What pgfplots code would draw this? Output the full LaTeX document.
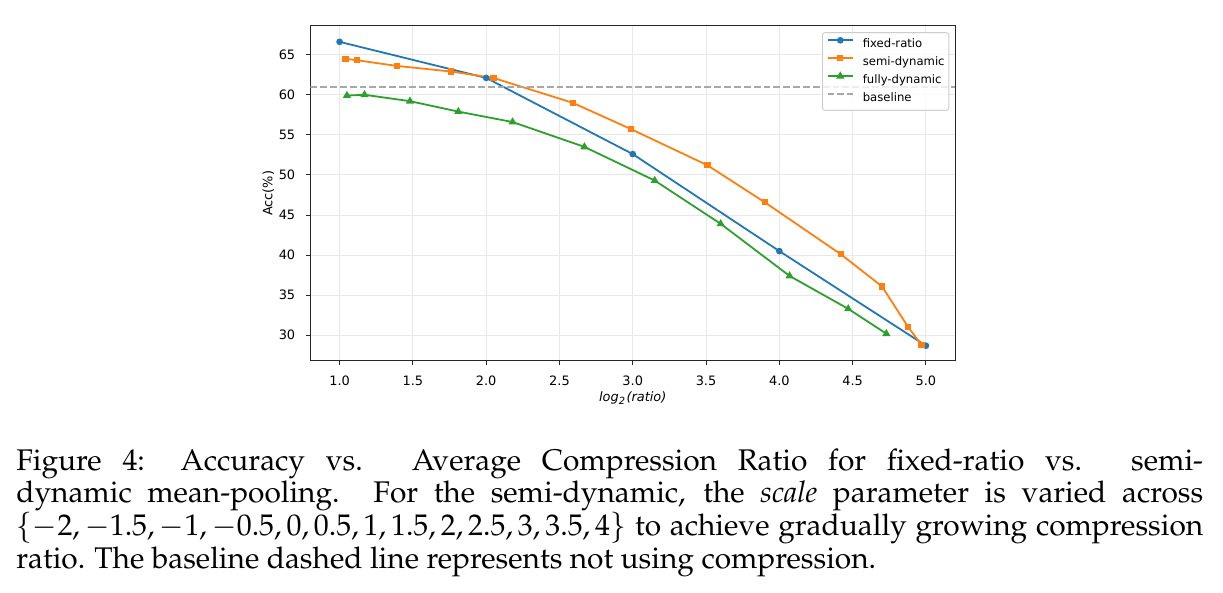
\documentclass[border=0pt]{standalone}
\usepackage{fontspec}
\usepackage[T1]{fontenc}
\usepackage{mathpazo}
\usepackage{pgfplots}
\pgfplotsset{compat=1.18}
\newfontfamily\dejavu{DejaVu Sans}
\newcommand{\tickfont}{\dejavu\fontsize{4.33}{5}\selectfont}
\newcommand{\legfont}{\dejavu\fontsize{3.9}{4.5}\selectfont}
\definecolor{tabblue}{HTML}{1F77B4}
\definecolor{taborange}{HTML}{FF7F0E}
\definecolor{tabgreen}{HTML}{2CA02C}
\definecolor{basegray}{RGB}{168,168,168}
\definecolor{gridgray}{RGB}{232,232,232}
\begin{document}
\begin{tikzpicture}
\useasboundingbox (0pt,0pt) rectangle (409.6pt,-198.6pt);
\begin{axis}[
  at={(103.92pt,-120.80pt)}, anchor=south west,
  scale only axis, width=216.0pt, height=112.1pt,
  xmin=0.8, xmax=5.2, ymin=26.83, ymax=68.58,
  xtick={1,1.5,...,5}, ytick={30,35,...,65},
  axis line style={line width=0.35pt, black!85},
  tick pos=left, tick align=outside,
  major tick length=1.5pt,
  every tick/.style={line width=0.35pt, black!85},
  grid=major, grid style={line width=0.3pt, gridgray},
  /pgf/number format/assume math mode=true,
  xticklabel style={font=\tickfont, anchor=center, inner sep=0pt, yshift=-5.36pt,
    /pgf/number format/.cd, fixed, fixed zerofill, precision=1},
  yticklabel style={font=\tickfont, anchor=east, inner sep=0pt, xshift=-3.35pt},
  xlabel={\textit{log}\textsubscript{\textit{2}}\textit{(ratio)}},
  ylabel={Acc(\%)},
  label style={font=\tickfont, inner sep=0pt},
  xlabel style={at={(axis description cs:0.5,-0.1115)}, anchor=center},
  ylabel style={at={(axis description cs:-0.0651,0.5)}, anchor=center},
  legend style={at={(rel axis cs:1,1)}, anchor=north east, xshift=-2pt, yshift=-2.1pt,
    draw=black!20, line width=0.3pt, rounded corners=0.8pt, fill=white, fill opacity=0.8,
    text opacity=1, font=\legfont, inner xsep=1.4pt, inner ysep=1pt,
    /tikz/column sep=3pt, /tikz/row sep=0pt,
    nodes={inner sep=0pt, text height=4.1pt, text depth=1.9pt}},
  legend cell align=left,
  legend image code/.code={\draw[mark repeat=2,mark phase=2,#1]
    plot coordinates {(0pt,1.45pt) (4.25pt,1.45pt) (8.5pt,1.45pt)};},
]
% fixed pooling ratio
\addplot[tabblue, line width=0.6pt, mark=*, mark size=0.8pt, mark options={solid}]
  coordinates {(1.0,66.6) (2.0,62.1) (3.0,52.6) (4.0,40.5) (5.0,28.7)};
\addlegendentry{fixed-ratio}
% semi-dynamic, scale from -2 to 4
\addplot[taborange, line width=0.6pt, mark=square*, mark size=0.75pt, mark options={solid}]
  coordinates {(1.04,64.5) (1.12,64.3) (1.39,63.6) (1.76,62.9) (2.05,62.1)
               (2.59,59.0) (2.99,55.7) (3.51,51.2) (3.90,46.6) (4.42,40.1)
               (4.70,36.1) (4.88,31.0) (4.97,28.8)};
\addlegendentry{semi-dynamic}
% fully dynamic
\addplot[tabgreen, line width=0.6pt, mark=triangle*, mark size=1.0pt, mark options={solid}]
  coordinates {(1.05,59.9) (1.17,60.0) (1.48,59.2) (1.81,57.9) (2.18,56.6)
               (2.67,53.5) (3.15,49.3) (3.60,43.9) (4.07,37.4) (4.47,33.3)
               (4.73,30.2)};
\addlegendentry{fully-dynamic}
% no compression
\addplot[basegray, line width=0.6pt, dash pattern=on 2.3pt off 1pt]
  coordinates {(0.8,61.0) (5.2,61.0)};
\addlegendentry{baseline}
\end{axis}
\node[anchor=north west, inner sep=0pt, text width=397.5pt, align=justify,
      font=\fontsize{10}{10.95}\selectfont] at (5.26pt,-150.0pt)
  {Figure 4: Accuracy vs. Average Compression Ratio for fixed-ratio vs. semi-dynamic
   mean-pooling. For the semi-dynamic, the \textit{scale} parameter is varied across
   $\{-2,-1.5,-1,-0.5,0,0.5,1,1.5,2,2.5,3,3.5,4\}$ to achieve gradually growing compression
   ratio. The baseline dashed line represents not using compression.};
\end{tikzpicture}
\end{document}
